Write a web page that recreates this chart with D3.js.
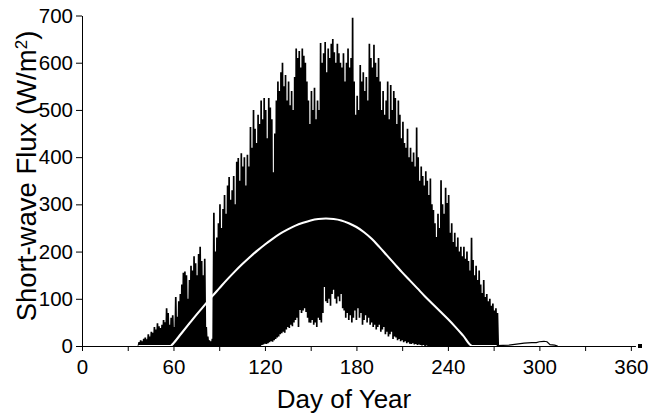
<!DOCTYPE html>
<html>
<head>
<meta charset="utf-8">
<script src="https://cdn.jsdelivr.net/npm/d3@7"></script>
<style>
  body { margin: 0; background: #fff; }
  text { font-family: "Liberation Sans", Arial, sans-serif; fill: #000; }
</style>
</head>
<body>
<svg width="652" height="414"></svg>
<script>
// hourly flux drawn as a daily swing from the night minimum to the noon peak
var firstDay = 37;
var dailyMax = [
  8, 12, 10, 15, 18, 14, 25, 20, 30, 28,
  40, 35, 48, 42, 38, 45, 55, 50, 80, 70,
  45, 60, 65, 40, 104, 62, 95, 110, 130, 155,
  158, 150, 100, 140, 170, 160, 190, 175, 150, 195,
  210, 180, 150, 185, 40, 20, 12, 10, 15, 282,
  200, 230, 260, 300, 250, 290, 320, 280, 340, 358,
  310, 330, 360, 300, 390, 398, 350, 408, 380, 400,
  340, 405, 380, 464, 420, 500, 460, 430, 490, 470,
  520, 480, 525, 500, 440, 525, 505, 480, 368, 450,
  520, 560, 540, 580, 600, 550, 574, 520, 560, 510,
  540, 500, 570, 630, 610, 625, 590, 630, 615, 600,
  560, 520, 470, 540, 500, 547, 480, 520, 500, 642,
  600, 620, 644, 580, 630, 610, 640, 650, 622, 600,
  640, 620, 600, 590, 620, 560, 600, 630, 590, 610,
  695, 560, 490, 530, 500, 595, 560, 580, 540, 570,
  520, 640, 610, 590, 638, 600, 570, 610, 560, 500,
  540, 490, 520, 560, 480, 553, 500, 540, 525, 470,
  520, 490, 440, 475, 430, 420, 460, 400, 420, 390,
  410, 380, 463, 400, 350, 380, 360, 340, 370, 350,
  320, 355, 300, 288, 260, 231, 280, 250, 351, 300,
  280, 335, 303, 320, 240, 260, 220, 240, 210, 230,
  200, 210, 190, 210, 185, 200, 180, 160, 229, 182,
  150, 170, 140, 160, 130, 112, 140, 104, 110, 95,
  100, 85, 90, 75, 80, 70
];

// night-time minimum (midnight sun), zero outside these days
var minFirstDay = 118;
var dailyMin = [
  2, 3, 5, 4, 6, 8, 10, 9, 12, 15,
  18, 20, 25, 27, 30, 28, 35, 40, 38, 45,
  42, 50, 55, 60, 40, 76, 70, 75, 80, 72,
  60, 50, 49, 55, 45, 50, 40, 60, 55, 50,
  70, 125, 95, 91, 100, 85, 110, 119, 100, 90,
  105, 95, 110, 80, 75, 60, 70, 55, 65, 50,
  60, 75, 55, 80, 60, 70, 45, 55, 65, 50,
  60, 45, 50, 40, 45, 35, 40, 45, 30, 35,
  40, 25, 30, 20, 25, 30, 15, 20, 18, 12,
  15, 10, 12, 8, 10, 6, 8, 5, 4, 6,
  3, 4, 2, 3, 2, 1, 2, 0, 1, 0
];

// daily mean (white line)
var meanDays = [37, 58, 60, 65, 70, 75, 80, 85, 90, 95, 100, 105, 110, 115, 120, 125, 130, 135, 140,
  145, 150, 155, 160, 165, 170, 175, 180, 185, 190, 195, 200, 205, 210, 215, 220, 225, 230,
  235, 240, 245, 250, 256, 272];
var meanFlux = [0, 0, 6, 26, 46, 66, 85, 104, 122, 140, 157, 173, 188, 202, 215, 227, 238, 247, 255,
  261, 266, 269, 270, 269, 266, 260, 252, 241, 227, 210, 192, 174, 156, 139, 122, 105, 89,
  73, 57, 40, 22, 0, 0];

// small autumn readings after the main record
var tailDays = [272, 280, 285, 290, 295, 298, 300, 303, 305, 307, 310, 312];
var tailFlux = [1, 2, 4, 6, 7, 7, 9, 10, 9, 3, 2, 0];

var endDays = [366];

var xTicks = d3.range(0, 361, 30);
var yTicks = d3.range(0, 701, 100);

var svg = d3.select("svg");

var x = d3.scaleLinear().domain([0, 366]).range([82, 640]);
var y = d3.scaleLinear().domain([0, 700]).range([346, 15.5]);

// zig-zag path: min at start of day, max at midday
var swing = [];
dailyMax.forEach(function(v, i) {
  var day = firstDay + i;
  var k = day - minFirstDay;
  var lo = (k >= 0 && k < dailyMin.length) ? dailyMin[k] : 0;
  swing.push([day, lo]);
  swing.push([day + 0.5, v]);
});
swing.push([firstDay + dailyMax.length, 0]);

var line = d3.line()
  .x(function(d) { return x(d[0]); })
  .y(function(d) { return y(d[1]); });

svg.append("path")
  .datum(swing)
  .attr("d", line)
  .attr("fill", "none")
  .attr("stroke", "#000")
  .attr("stroke-width", 1.7)
  .attr("stroke-linejoin", "miter");

svg.append("path")
  .datum(d3.zip(tailDays, tailFlux))
  .attr("d", line)
  .attr("fill", "none")
  .attr("stroke", "#000")
  .attr("stroke-width", 1.2);

svg.append("path")
  .datum(d3.zip(meanDays, meanFlux))
  .attr("d", line.curve(d3.curveMonotoneX))
  .attr("fill", "none")
  .attr("stroke", "#fff")
  .attr("stroke-width", 2.1);

svg.selectAll(".end")
  .data(endDays)
  .enter()
  .append("rect")
  .attr("class", "end")
  .attr("x", function(d) { return x(d) - 2; })
  .attr("y", y(0) - 2)
  .attr("width", 4)
  .attr("height", 4)
  .attr("fill", "#000");

// axes
var xAxisScale = x.copy().domain([0, 363]).range([x(0), x(363)]);

var gx = svg.append("g")
  .attr("transform", "translate(0," + y(0) + ")")
  .call(d3.axisBottom(xAxisScale)
    .tickValues(xTicks)
    .tickFormat(function(d) { return d % 60 === 0 ? d : ""; })
    .tickSize(5)
    .tickSizeOuter(0)
    .tickPadding(8));

var gy = svg.append("g")
  .attr("transform", "translate(" + x(0) + ",0)")
  .call(d3.axisLeft(y)
    .tickValues(yTicks)
    .tickSize(6)
    .tickSizeOuter(0)
    .tickPadding(3));

[gx, gy].forEach(function(g) {
  g.selectAll("text").style("font-size", "20.5px").attr("font-family", null);
  g.selectAll("path, line").attr("stroke", "#000");
  g.attr("font-family", null).attr("font-size", null);
});

svg.append("text")
  .attr("x", 344)
  .attr("y", 408)
  .attr("text-anchor", "middle")
  .style("font-size", "26px")
  .text("Day of Year");

var yt = svg.append("text")
  .attr("transform", "translate(36,176) rotate(-90)")
  .attr("text-anchor", "middle")
  .style("font-size", "27.5px");
yt.append("tspan").text("Short-wave Flux (W/m");
yt.append("tspan").attr("baseline-shift", "super").style("font-size", "17px").text("2");
yt.append("tspan").text(")");
</script>
</body>
</html>
